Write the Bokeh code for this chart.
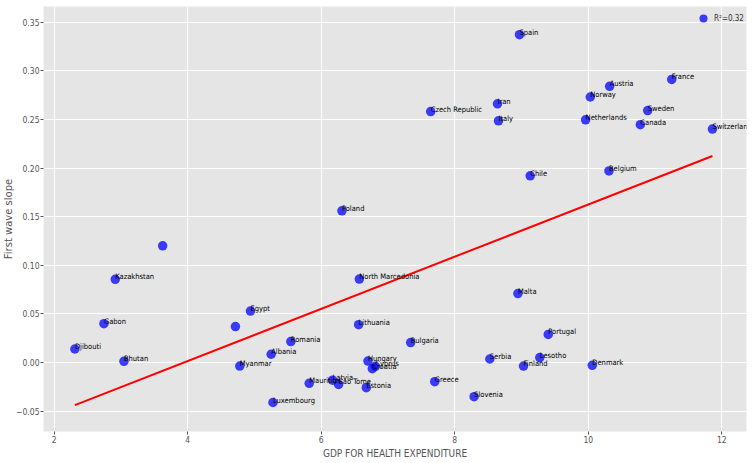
from bokeh.plotting import figure
from bokeh.models import (ColumnDataSource, Range1d, FixedTicker, CustomJSTickFormatter, Legend,
                          LegendItem, LabelSet, Title)
from bokeh.core.properties import value
from bokeh.embed import file_html
from bokeh.resources import INLINE

countries = ["Spain", "Czech Republic", "Iran", "Italy", "Austria", "Norway", "Netherlands",
             "France", "Sweden", "Canada", "Switzerland", "Chile", "Belgium", "Poland", "",
             "Kazakhstan", "North Marcedonia", "Egypt", "Gabon", "", "Lithuania", "Romania",
             "Djibouti", "Albania", "Bhutan", "Myanmar", "Hungary", "Croatia", "Cyprus",
             "Mauritius", "Latvia", "Sao Tome", "Estonia", "Luxembourg", "Malta", "Portugal",
             "Bulgaria", "Serbia", "Lesotho", "Finland", "Denmark", "Greece", "Slovenia"]
gdp_health = [8.97, 7.64, 8.64, 8.655, 10.32, 10.03, 9.96,
              11.25, 10.89, 10.78, 11.86, 9.13, 10.31, 6.31, 3.625,
              2.915, 6.57, 4.94, 2.745, 4.715, 6.56, 5.545,
              2.31, 5.25, 3.045, 4.78, 6.70, 6.765, 6.81,
              5.82, 6.17, 6.26, 6.675, 5.277, 8.946, 9.40,
              7.34, 8.525, 9.274, 9.03, 10.06, 7.70, 8.29]
first_wave_slope = [0.337, 0.258, 0.266, 0.2485, 0.284, 0.273, 0.2495,
                    0.291, 0.259, 0.2445, 0.240, 0.192, 0.197, 0.156, 0.120,
                    0.0856, 0.0859, 0.053, 0.040, 0.037, 0.039, 0.0216,
                    0.014, 0.0086, 0.0013, -0.0035, 0.0016, -0.0062, -0.0038,
                    -0.0213, -0.018, -0.0224, -0.0258, -0.041, 0.071, 0.029,
                    0.0206, 0.0037, 0.0052, -0.0035, -0.0028, -0.0196, -0.035]
trend_x = [2.31, 11.86]
trend_y = [-0.0437, 0.2124]
r2_label = "R\u00b2=0.32"
x_ticks = [2, 4, 6, 8, 10, 12]
y_ticks = [-0.05, 0.0, 0.05, 0.1, 0.15, 0.2, 0.25, 0.3, 0.35]

NARROW = "DejaVu Sans Condensed"

src = ColumnDataSource(dict(x=gdp_health, y=first_wave_slope, name=countries))

p = figure(width=754, height=463, output_backend="svg", toolbar_location=None,
           x_range=Range1d(1.84, 12.37), y_range=Range1d(-0.0708, 0.366),
           min_border_left=38, min_border_right=8, min_border_top=6, min_border_bottom=32)
p.background_fill_color = "#E5E5E5"
p.border_fill_color = "white"
p.outline_line_color = None

for ax in (p.xaxis[0], p.yaxis[0]):
    ax.axis_line_color = None
    ax.major_tick_in = 0
    ax.major_tick_out = 3
    ax.major_tick_line_color = "#555555"
    ax.minor_tick_line_color = None
    ax.major_label_text_font = NARROW
    ax.major_label_text_font_size = "8.5px"
    ax.major_label_text_color = "#555555"
    ax.major_label_standoff = 1
    ax.axis_label_text_color = "#555555"
    ax.axis_label_text_font_style = "normal"
    ax.axis_label_standoff = 2

p.xaxis.ticker = FixedTicker(ticks=x_ticks)
p.yaxis.ticker = FixedTicker(ticks=y_ticks)
p.xaxis.formatter = CustomJSTickFormatter(code="return tick.toFixed(0);")
p.yaxis.formatter = CustomJSTickFormatter(code="return tick.toFixed(2).replace('-', '\\u2212');")
p.xaxis.axis_label = "GDP FOR HEALTH EXPENDITURE"
p.xaxis.axis_label_text_font = NARROW
p.xaxis.axis_label_text_font_size = "10px"

ylab = Title(text="First wave slope", align="center", text_font="DejaVu Sans",
             text_font_size="10px", text_color="#555555", text_font_style="normal",
             standoff=0, offset=0)
p.add_layout(ylab, "left")

p.grid.grid_line_color = "white"
p.grid.grid_line_width = 1
p.xgrid.ticker = FixedTicker(ticks=x_ticks)
p.ygrid.ticker = FixedTicker(ticks=y_ticks)

pts = p.scatter("x", "y", source=src, size=9.5, color="blue", alpha=0.75, line_color=None)
p.line(trend_x, trend_y, line_color="red", line_width=2)
labels = LabelSet(x="x", y="y", text="name", source=src, text_font=value(NARROW),
                  text_font_size="7.5px", text_color="black", text_baseline="alphabetic",
                  text_align="left")
p.add_layout(labels)

legend = Legend(items=[LegendItem(label=r2_label, renderers=[pts])], location=(649, 402))
legend.background_fill_alpha = 0
legend.border_line_alpha = 0
legend.label_text_font = NARROW
legend.label_text_font_size = "8px"
legend.label_text_color = "#333333"
legend.glyph_width = 20
legend.glyph_height = 20
legend.label_height = 20
legend.label_standoff = 1
legend.padding = 1
legend.margin = 0
p.add_layout(legend)

open("out.html", "w").write(file_html(p, INLINE))
